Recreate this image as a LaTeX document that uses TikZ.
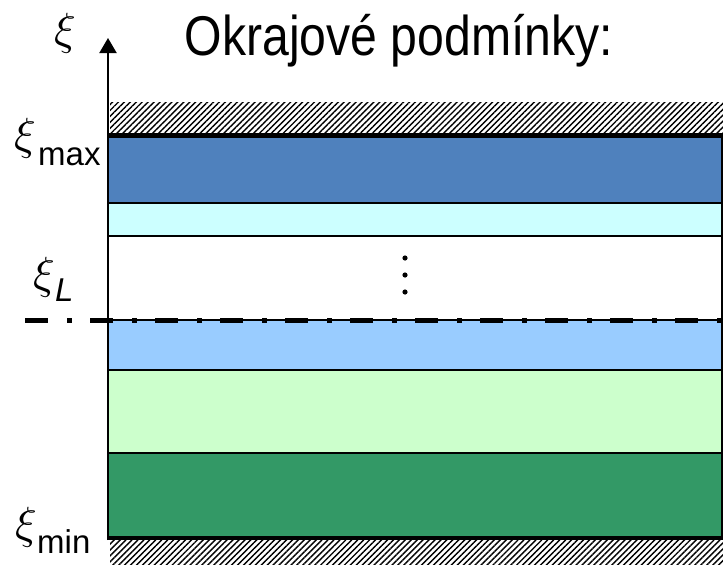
\documentclass[tikz,border=0pt]{standalone}
\usepackage{fontspec}
\setmainfont{Liberation Sans}
\usetikzlibrary{patterns.meta,arrows.meta}
\definecolor{dblue}{HTML}{4F81BD}
\definecolor{cyanc}{HTML}{CCFFFF}
\definecolor{lblue}{HTML}{99CCFF}
\definecolor{lgreen}{HTML}{CCFFCC}
\definecolor{dgreen}{HTML}{339966}
\newcommand{\bigxi}{\scalebox{4.5}{$\xi$}}
\begin{document}
\begin{tikzpicture}[x=1pt,y=-1pt,
  band/.style={draw=black,line width=1.2pt},
  hatch/.style={pattern={Lines[angle=45,distance=4.2pt,line width=1.4pt]}},
  xilab/.style={inner sep=0pt},
  sublab/.style={inner sep=0pt,anchor=base west,font=\fontsize{33}{36}\selectfont}]
\useasboundingbox (0,0) rectangle (723,565);
% hatched boundaries
\fill[hatch] (110,102) rectangle (723,133);
\fill[hatch] (110,540) rectangle (723,565);
% bands
\draw[band,fill=dblue]  (108,137) rectangle (722,203);
\draw[band,fill=cyanc]  (108,203) rectangle (722,236);
\draw[band,fill=white]  (108,236) rectangle (722,320);
\draw[band,fill=lblue]  (108,320) rectangle (722,370);
\draw[band,fill=lgreen] (108,370) rectangle (722,453);
\draw[band,fill=dgreen] (108,453) rectangle (722,537);
% thick boundary lines
\draw[line width=5pt] (108,135.5) -- (723,135.5);
\draw[line width=4pt] (108,537.5) -- (723,537.5);
% axis
\draw[line width=2pt,-{Triangle[width=17pt,length=15pt]}] (108,540) -- (108,38);
% dash-dot line
\draw[line width=5pt,dash pattern=on 23pt off 19pt on 5pt off 18pt] (25,320) -- (723,320);
% vertical dots
\fill (405,258) circle (2.6);
\fill (405,275) circle (2.6);
\fill (405,292) circle (2.6);
% labels
\node[xilab] (xiaxis) at (65,33) {\bigxi};
\node[inner sep=0pt,anchor=base] (title) at (399,55) {\fontsize{56}{60}\selectfont\scalebox{0.86}[1]{Okrajové podmínky:}};
\node[xilab] (ximax) at (25,138) {\bigxi};
\node[sublab] (max) at (38,165) {max};
\node[xilab] (xiL) at (44,277) {\bigxi};
\node[sublab] (L) at (55,301) {\itshape L};
\node[xilab] (ximin) at (26,527) {\bigxi};
\node[sublab] (min) at (37,553) {min};
\end{tikzpicture}
\end{document}
